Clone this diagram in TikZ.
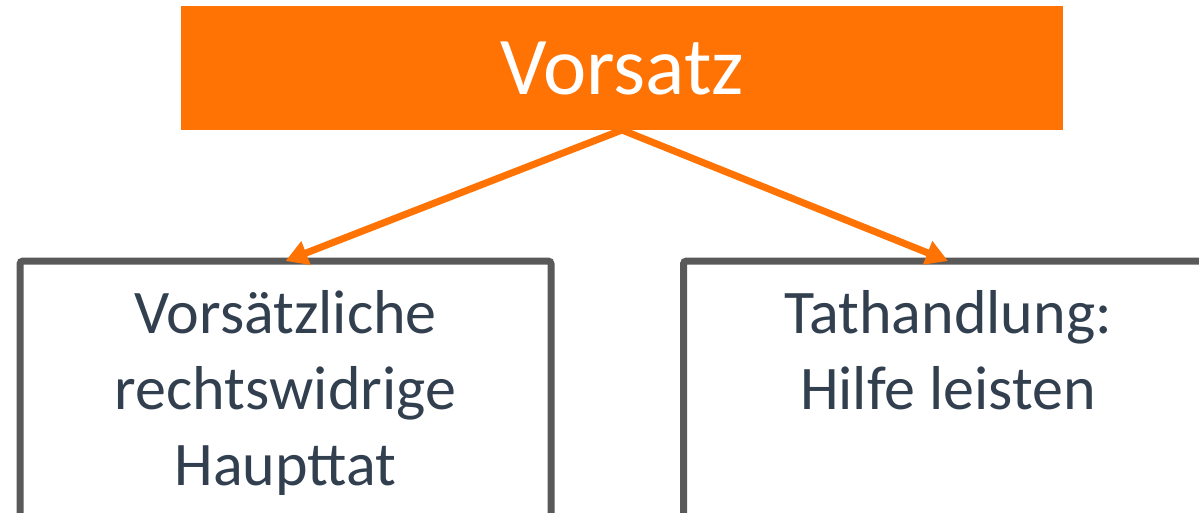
\documentclass[tikz,border=0pt]{standalone}
\usepackage{fontspec}
\setmainfont{Carlito}
\usetikzlibrary{arrows.meta,positioning,calc}
\definecolor{vorsatzorange}{RGB}{255,114,4}
\definecolor{boxgray}{RGB}{89,89,89}
\definecolor{textblue}{RGB}{50,63,79}

\begin{document}
\begin{tikzpicture}[x=1pt, y=-1pt,
			every node/.style={align=center, inner sep=0pt, outer sep=0pt},
			head/.style={fill=vorsatzorange, minimum width=882pt, minimum height=124pt, text=white, font=\fontsize{82}{98}\selectfont},
			element/.style={draw=boxgray, line width=7pt, rounded corners=3pt, minimum height=280pt},
			elemtext/.style={text=textblue, font=\fontsize{62}{76}\selectfont},
			post/.style={-{Triangle[length=22pt, width=24pt]}, line width=7pt, draw=vorsatzorange}]

		\useasboundingbox (0,0) rectangle (1199,512);
		\clip (0,0) rectangle (1199,512);

		\node [head] (vorsatz) at (622,68) {Vorsatz};

		\node [element, minimum width=531pt] (haupt) at (285.5,401) {};

		\node [element, minimum width=529pt] (tat) at (948,401) {};

		\node [elemtext] (hauptText) [below=29pt of haupt.north] {Vorsätzliche\\rechtswidrige\\Haupttat};

		\node [elemtext] (tatText) [below=29pt of tat.north] {Tathandlung:\\Hilfe leisten};

		\draw [post] (vorsatz.south) -- (haupt.north);
		\draw [post] (vorsatz.south) -- (tat.north);

	\end{tikzpicture}
\end{document}
